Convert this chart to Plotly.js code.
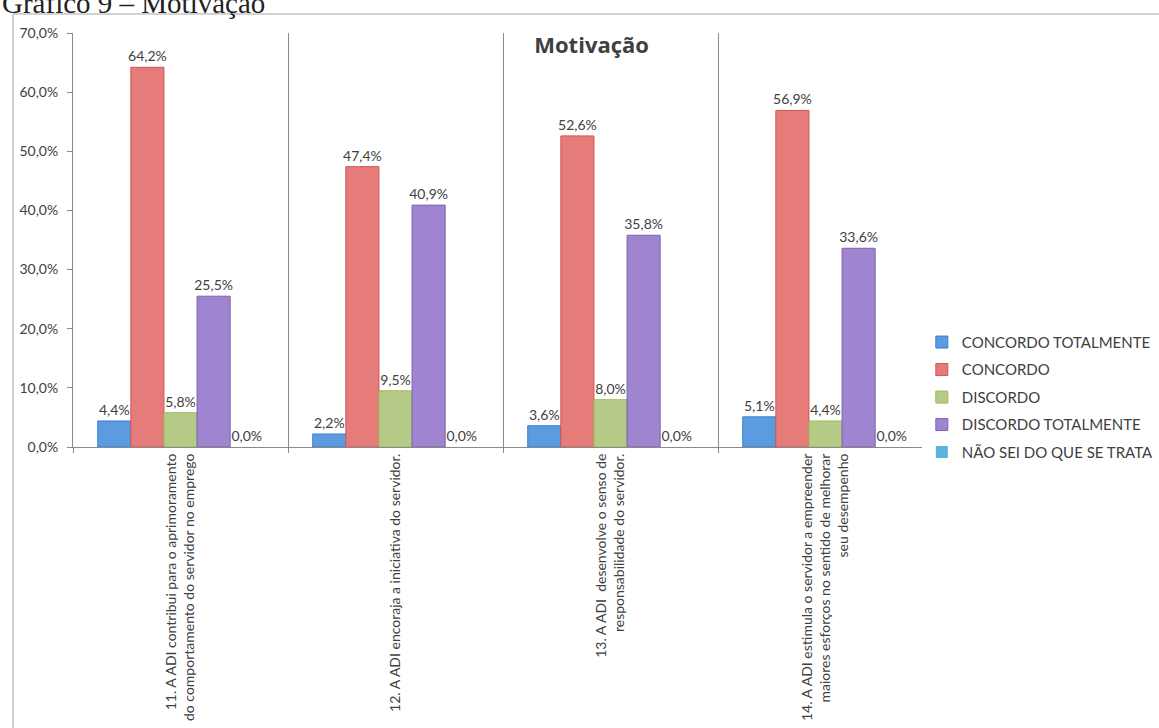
<!DOCTYPE html>
<html>
<head>
<meta charset="utf-8">
<script src="https://cdn.plot.ly/plotly-3.0.1.min.js"></script>
<style>
html,body{margin:0;padding:0;background:#fff;overflow:hidden;}
#chart{width:1159px;height:728px;}
</style>
</head>
<body>
<div id="chart"></div>
<script>
const categories = [
  "11. A ADI contribui para o aprimoramento<br>do comportamento do servidor no emprego",
  "12. A ADI encoraja a iniciativa do servidor.",
  "13. A ADI  desenvolve o senso de<br>responsabilidade do servidor.",
  "14. A ADI estimula o servidor a empreender<br>maiores esforços no sentido de melhorar<br>seu desempenho"
];
const seriesNames = ["CONCORDO TOTALMENTE", "CONCORDO", "DISCORDO", "DISCORDO TOTALMENTE", "NÃO SEI DO QUE SE TRATA"];
const concordoTotalmente = [4.4, 2.2, 3.6, 5.1];
const concordo = [64.2, 47.4, 52.6, 56.9];
const discordo = [5.8, 9.5, 8.0, 4.4];
const discordoTotalmente = [25.5, 40.9, 35.8, 33.6];
const naoSei = [0.0, 0.0, 0.0, 0.0];
const yTickValues = [0, 10, 20, 30, 40, 50, 60, 70];

const seriesValues = [concordoTotalmente, concordo, discordo, discordoTotalmente, naoSei];
const fills = ["#5b9be0", "#e67c79", "#b6ca88", "#9f84cf", "#5ab3de"];
const lines = ["#3c7fd0", "#cf5552", "#9bbb59", "#7f62b0", "#3a92c4"];
const fmt = v => v.toFixed(1).replace('.', ',') + '%';
const FONT = 'Lato, "Open Sans", sans-serif';

const traces = seriesValues.map((vals, i) => ({
  type: 'bar',
  name: seriesNames[i],
  legendgroup: 'g' + i,
  x: categories,
  y: vals,
  text: vals.map(fmt),
  textposition: 'outside',
  constraintext: 'none',
  cliponaxis: false,
  textfont: {family: FONT, size: 14, color: '#404040'},
  marker: {color: fills[i], line: {color: lines[i], width: vals.every(v => v === 0) ? 0 : 1}},
  hoverinfo: 'none'
}));

const layout = {
  width: 1159, height: 728,
  margin: {l: 73, r: 226, t: 33, b: 281, autoexpand: false},
  paper_bgcolor: '#ffffff', plot_bgcolor: '#ffffff',
  separators: ',.',
  barmode: 'group',
  bargap: 0.23,
  bargroupgap: 0,
  font: {family: FONT, size: 14, color: '#404040'},
  title: {
    text: '<b>Motivação</b>',
    font: {family: '"Open Sans", Lato, sans-serif', size: 22, color: '#404040'},
    x: 0.603, xref: 'paper', xanchor: 'center',
    y: 0.938, yref: 'container', yanchor: 'middle'
  },
  xaxis: {
    tickson: 'boundaries',
    ticks: 'outside', ticklen: 5, tickcolor: '#8a8a8a',
    showgrid: true, gridcolor: '#8a8a8a', gridwidth: 1,
    showline: true, linecolor: '#8a8a8a', linewidth: 1,
    tickangle: -90,
    tickfont: {family: FONT, size: 14, color: '#404040'},
    fixedrange: true
  },
  yaxis: {
    range: [0, 70],
    tickvals: yTickValues,
    ticktext: yTickValues.map(fmt),
    ticks: 'outside', ticklen: 5, tickcolor: '#8a8a8a',
    ticklabelstandoff: 6,
    showgrid: false, zeroline: false,
    showline: true, linecolor: '#8a8a8a', linewidth: 1,
    tickfont: {family: FONT, size: 14, color: '#404040'},
    fixedrange: true
  },
  legend: {
    x: 0.987, xanchor: 'left',
    y: 0.12, yanchor: 'middle',
    font: {family: FONT, size: 15, color: '#404040'},
    tracegroupgap: 5,
    itemwidth: 30,
    traceorder: 'grouped'
  },
  showlegend: true,
  shapes: [
    {type: 'rect', xref: 'paper', yref: 'paper',
     x0: -0.0698, x1: 1.3, y0: -0.7, y1: 1.0459,
     line: {color: '#a6a6a6', width: 1}, fillcolor: 'rgba(0,0,0,0)', layer: 'below'}
  ],
  annotations: [
    {text: 'Gráfico 9 – Motivação', xref: 'paper', yref: 'paper',
     x: -0.0849, xanchor: 'left', y: 1.028, yanchor: 'bottom',
     showarrow: false,
     font: {family: '"Liberation Serif", "DejaVu Serif", serif', size: 29, color: '#222222'}}
  ]
};

Plotly.newPlot('chart', traces, layout, {displayModeBar: false, staticPlot: true});
</script>
</body>
</html>
